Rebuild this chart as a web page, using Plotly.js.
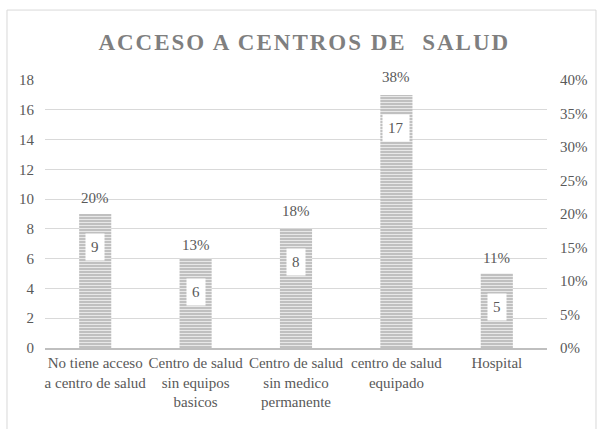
<!DOCTYPE html>
<html>
<head>
<meta charset="utf-8">
<script src="https://cdn.plot.ly/plotly-3.0.1.min.js"></script>
<style>
  html, body { margin: 0; padding: 0; background: #ffffff; }
  #chart .gtitle { letter-spacing: 2px; }
</style>
</head>
<body>
<div id="chart"></div>
<script>
const categories = [
  "No tiene acceso<br>a centro de salud",
  "Centro de salud<br>sin equipos<br>basicos",
  "Centro de salud<br>sin medico<br>permanente",
  "centro de salud<br>equipado",
  "Hospital"
];
const counts = [9, 6, 8, 17, 5];
const percents = [0.20, 0.13, 0.18, 0.38, 0.11];
const percentLabels = ["20%", "13%", "18%", "38%", "11%"];
const leftTicks = [0, 2, 4, 6, 8, 10, 12, 14, 16, 18];
const rightTicks = [0, 0.05, 0.10, 0.15, 0.20, 0.25, 0.30, 0.35, 0.40];

const textColor = "#595959";
const fontFam = "Liberation Serif";

const bars = {
  type: "bar",
  x: categories,
  y: counts,
  width: 0.32,
  marker: {
    color: "#c4c4c4",
    line: { width: 0 },
    pattern: { shape: "-", fgcolor: "#e8e8e8", bgcolor: "#c0c0c0", size: 3, solidity: 0.35, fillmode: "replace" }
  },
  hoverinfo: "skip",
  showlegend: false
};

const pctTrace = {
  type: "scatter",
  mode: "markers",
  x: categories,
  y: percents,
  marker: { opacity: 0, size: 1 },
  yaxis: "y2",
  hoverinfo: "skip",
  showlegend: false
};

const countAnn = categories.map((c, i) => ({
  x: c, y: counts[i], xref: "x", yref: "y",
  text: String(counts[i]),
  showarrow: false,
  yshift: -33,
  bgcolor: "#ffffff",
  borderpad: 5,
  font: { family: fontFam, size: 15, color: textColor }
}));

const pctAnn = categories.map((c, i) => ({
  x: c, y: percents[i], xref: "x", yref: "y2",
  text: percentLabels[i],
  showarrow: false,
  yshift: 16,
  font: { family: fontFam, size: 15, color: textColor }
}));

const layout = {
  width: 599, height: 429,
  margin: { l: 45, r: 52, t: 80, b: 81 },
  paper_bgcolor: "#ffffff",
  plot_bgcolor: "#ffffff",
  font: { family: fontFam, color: textColor },
  title: {
    text: "<b>ACCESO A CENTROS DE  SALUD</b>",
    x: 0.508, xanchor: "center",
    y: 0.902, yanchor: "middle",
    font: { family: fontFam, size: 23, color: "#7f7f7f" }
  },
  bargap: 0.68,
  xaxis: {
    type: "category",
    showgrid: false,
    showline: true,
    linecolor: "#bfbfbf",
    linewidth: 2,
    ticks: "",
    tickfont: { family: fontFam, size: 15, color: textColor },
    fixedrange: true
  },
  yaxis: {
    range: [0, 18],
    tickvals: leftTicks,
    showgrid: true,
    gridcolor: "#d9d9d9",
    gridwidth: 1,
    zeroline: false,
    showline: false,
    ticks: "",
    ticklabelstandoff: 10,
    tickfont: { family: fontFam, size: 15, color: textColor },
    fixedrange: true
  },
  yaxis2: {
    overlaying: "y",
    side: "right",
    range: [0, 0.40],
    tickvals: rightTicks,
    tickformat: ".0%",
    showgrid: false,
    zeroline: false,
    showline: false,
    ticks: "",
    ticklabelstandoff: 12,
    tickfont: { family: fontFam, size: 15, color: textColor },
    fixedrange: true
  },
  shapes: [{
    type: "path",
    xref: "paper", yref: "paper",
    path: "M -0.0757 -0.31 L -0.0757 1.261 L 1.0976 1.261 L 1.0976 -0.31",
    line: { color: "#d9d9d9", width: 1 },
    layer: "below"
  }],
  annotations: countAnn.concat(pctAnn),
  showlegend: false
};

function draw() {
  Plotly.newPlot("chart", [bars, pctTrace], layout, { displayModeBar: false, staticPlot: true });
}
if (document.fonts && document.fonts.load) {
  Promise.all([
    document.fonts.load('15px "Liberation Serif"'),
    document.fonts.load('bold 23px "Liberation Serif"')
  ]).then(draw, draw);
} else {
  draw();
}
</script>
</body>
</html>
